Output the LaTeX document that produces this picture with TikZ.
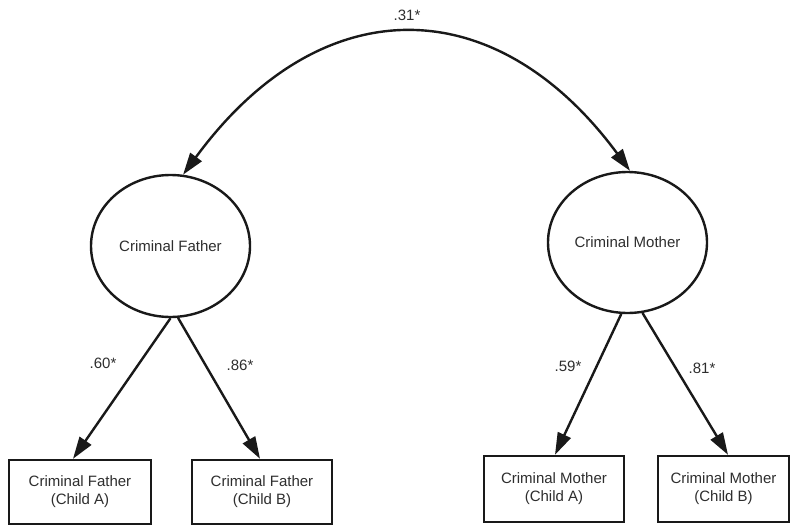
\documentclass[tikz,border=0pt]{standalone}
\usepackage{fontspec}
\setmainfont{Liberation Sans}
\usetikzlibrary{arrows.meta,shapes.geometric,calc}
\begin{document}
\begin{tikzpicture}[x=1pt,y=-1pt,
  every node/.style={font=\fontsize{15}{18}\selectfont, text=black!82},
  latent/.style={draw=black!90, line width=2.4pt, ellipse, inner sep=0pt},
  obs/.style={draw=black!90, line width=2.4pt, rectangle, inner sep=0pt, align=center, minimum height=64pt},
  path/.style={draw=black!90, line width=2.4pt, -{Triangle[length=22pt,width=14pt]}},
  corr/.style={draw=black!90, line width=2.4pt, {Triangle[length=22pt,width=14pt]}-{Triangle[length=22pt,width=14pt]}},
  coef/.style={inner sep=0pt}]
\useasboundingbox[fill=white] (0,0) rectangle (792,527);
\node[latent, minimum width=159pt, minimum height=142pt] (fat) at (170.5,246) {Criminal Father};
\node[latent, minimum width=159pt, minimum height=141pt] (mot) at (627.5,242.5) {Criminal Mother};
\node[obs, minimum width=142pt] (fa) at (80,492) {Criminal Father\\(Child A)};
\node[obs, minimum width=140pt] (fb) at (262,492) {Criminal Father\\(Child B)};
\node[obs, minimum width=140pt, minimum height=66pt] (ma) at (554,489) {Criminal Mother\\(Child A)};
\node[obs, minimum width=131pt, minimum height=66pt] (mb) at (723.5,489) {Criminal Mother\\(Child B)};
\draw[corr] (fat.80) .. controls (320,-12) and (495,-12) .. (mot.88);
\node[coef] (c31) at (407,15) {.31*};
\draw[path] (fat.-90) -- ($(fa.north)+(-7,0)$);
\draw[path] (fat.-84) -- ($(fb.north)+(-2,0)$);
\draw[path] (mot.-95) -- ($(ma.north)+(1,0)$);
\draw[path] (mot.-78) -- ($(mb.north)+(4.5,0)$);
\node[coef] (c60) at (103,363) {.60*};
\node[coef] (c86) at (240,365) {.86*};
\node[coef] (c59) at (568,366) {.59*};
\node[coef] (c81) at (702,368) {.81*};
\end{tikzpicture}
\end{document}
